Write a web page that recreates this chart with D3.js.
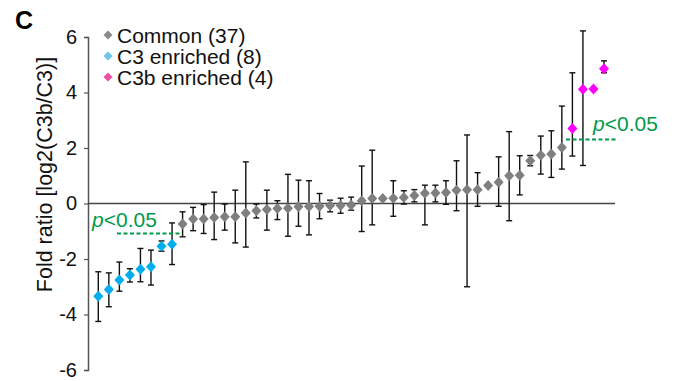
<!DOCTYPE html>
<html>
<head>
<meta charset="utf-8">
<script src="https://cdn.jsdelivr.net/npm/d3@7"></script>
<style>
  body { margin: 0; background: #fff; }
  svg { display: block; font-family: "Liberation Sans", Arial, sans-serif; }
</style>
</head>
<body>
<div id="chart"></div>
<script>
// log2(C3b/C3) per protein, sorted; group 0 = common, 1 = C3 enriched, 2 = C3b enriched
const foldRatio = [-3.34, -3.10, -2.76, -2.58, -2.37, -2.28, -1.54, -1.47,
  -0.74, -0.56, -0.56, -0.50, -0.48, -0.48, -0.34, -0.26, -0.22, -0.18, -0.17, -0.12,
  -0.11, -0.10, -0.07, -0.07, -0.05, 0.10, 0.18, 0.18, 0.19, 0.22, 0.29, 0.37, 0.38,
  0.40, 0.48, 0.50, 0.50, 0.65, 0.77, 1.00, 1.02, 1.54, 1.74, 1.78, 2.02,
  2.70, 4.12, 4.13, 4.86];
const errHigh = [-2.46, -2.50, -2.11, -2.35, -1.62, -1.68, -1.35, -0.70,
  -0.30, -0.14, -0.04, 0.41, -0.02, 0.48, 1.50, -0.02, 0.48, 0.10, 1.05, 0.84,
  0.82, 0.36, 0.12, 0.19, 0.23, 1.35, 1.92, null, 0.82, 0.46, 0.50, 0.66, 0.66,
  0.82, 1.54, 2.47, 1.11, null, 1.68, 2.59, 1.72, 1.73, 2.43, 2.62, 3.51,
  4.71, 6.22, null, 5.14];
const errLow = [-4.25, -3.72, -3.16, -2.83, -2.82, -2.94, -1.72, -2.20,
  -1.20, -0.98, -1.08, -1.30, -0.96, -1.42, -1.57, -0.52, -0.96, -0.58, -1.18, -0.82,
  -1.13, -0.55, -0.30, -0.35, -0.24, -1.01, -0.77, null, -0.46, -0.02, 0.06, -0.77, 0.06,
  -0.03, -0.26, -3.00, -0.10, null, -0.10, -0.62, 0.31, 1.36, 1.06, 0.94, 1.24,
  1.71, 1.37, null, 4.71];
const groupCounts = [37, 8, 4];
const groupNames = ["Common (37)", "C3 enriched (8)", "C3b enriched (4)"];
const yTicks = [-6, -4, -2, 0, 2, 4, 6];
const cutLow = -1.08, cutHigh = 2.31;

const pointColor = ["#7f7f7f", "#00aeef", "#ff00ff"];
const legendColor = ["#8a8a8a", "#6cc4ea", "#ec4f9f"];
const green = "#009a4a";

const data = foldRatio.map((v, i) => ({
  i: i + 1,
  v: v,
  hi: errHigh[i],
  lo: errLow[i],
  g: i < groupCounts[1] ? 1 : (i >= foldRatio.length - groupCounts[2] ? 2 : 0)
}));

const width = 676, height = 381;
const svg = d3.select("#chart").append("svg")
  .attr("width", width).attr("height", height);

const x = d3.scaleLinear().domain([1, data.length]).range([98.3, 604]);
const y = d3.scaleLinear().domain([-6, 6]).range([370, 37]);
const axisX = 88;

// y axis
const yAxis = d3.axisLeft(y).tickValues(yTicks).tickSize(4).tickPadding(7)
  .tickFormat(d => d < 0 ? "-" + Math.abs(d) : d);
const ga = svg.append("g").attr("transform", `translate(${axisX},0)`).call(yAxis);
ga.select(".domain").attr("stroke", "#555").attr("stroke-width", 1.5);
ga.selectAll(".tick line").attr("stroke", "#555").attr("stroke-width", 1.2);
ga.selectAll(".tick text").attr("fill", "#111").style("font-size", "20px")
  .style("font-family", "'Liberation Sans', Arial, sans-serif");

// zero line
svg.append("line")
  .attr("x1", axisX).attr("x2", 615)
  .attr("y1", y(0)).attr("y2", y(0))
  .attr("stroke", "#444").attr("stroke-width", 1.5);

// y title
svg.append("text")
  .attr("transform", `translate(52,${(y(6) + y(-6)) / 2 - 29}) rotate(-90)`)
  .attr("text-anchor", "middle")
  .style("font-size", "21.5px").attr("fill", "#111")
  .text("Fold ratio [log2(C3b/C3)]");

// panel letter
svg.append("text").attr("x", 15).attr("y", 29)
  .style("font-size", "25px").style("font-weight", "bold").text("C");

// error bars
const eb = svg.append("g").selectAll("g")
  .data(data.filter(d => d.hi != null))
  .join("g")
  .attr("stroke", "#111").attr("stroke-width", 1.4);
eb.append("line")
  .attr("x1", d => x(d.i)).attr("x2", d => x(d.i))
  .attr("y1", d => y(d.hi)).attr("y2", d => y(d.lo));
eb.append("line")
  .attr("x1", d => x(d.i) - 3).attr("x2", d => x(d.i) + 3)
  .attr("y1", d => y(d.hi)).attr("y2", d => y(d.hi));
eb.append("line")
  .attr("x1", d => x(d.i) - 3).attr("x2", d => x(d.i) + 3)
  .attr("y1", d => y(d.lo)).attr("y2", d => y(d.lo));

// diamonds
const diamond = (cx, cy, w, h) =>
  `M${cx},${cy - h} L${cx + w},${cy} L${cx},${cy + h} L${cx - w},${cy} Z`;
svg.append("g").selectAll("path")
  .data(data)
  .join("path")
  .attr("d", d => diamond(x(d.i), y(d.v), 5, 5.5))
  .attr("fill", d => pointColor[d.g]);

// significance cut-offs
const cuts = [
  {v: cutLow, x1: 117, x2: 181, tx: 92, ty: 227},
  {v: cutHigh, x1: 566, x2: 618, tx: 593, ty: 131}
];
cuts.forEach(c => {
  svg.append("line")
    .attr("x1", c.x1).attr("x2", c.x2)
    .attr("y1", y(c.v)).attr("y2", y(c.v))
    .attr("stroke", green).attr("stroke-width", 2)
    .attr("stroke-dasharray", "4,2.5");
  const t = svg.append("text").attr("x", c.tx).attr("y", c.ty)
    .attr("fill", green).style("font-size", "21px");
  t.append("tspan").style("font-style", "italic").text("p");
  t.append("tspan").text("<0.05");
});

// legend
const leg = svg.append("g").selectAll("g")
  .data(groupNames)
  .join("g")
  .attr("transform", (d, i) => `translate(108,${35 + i * 21})`);
leg.append("path")
  .attr("d", diamond(0, 0, 4.5, 4.5))
  .attr("fill", (d, i) => legendColor[i]);
leg.append("text").attr("x", 9).attr("y", 7.5)
  .style("font-size", "21px").attr("fill", "#111")
  .text(d => d);
</script>
</body>
</html>
